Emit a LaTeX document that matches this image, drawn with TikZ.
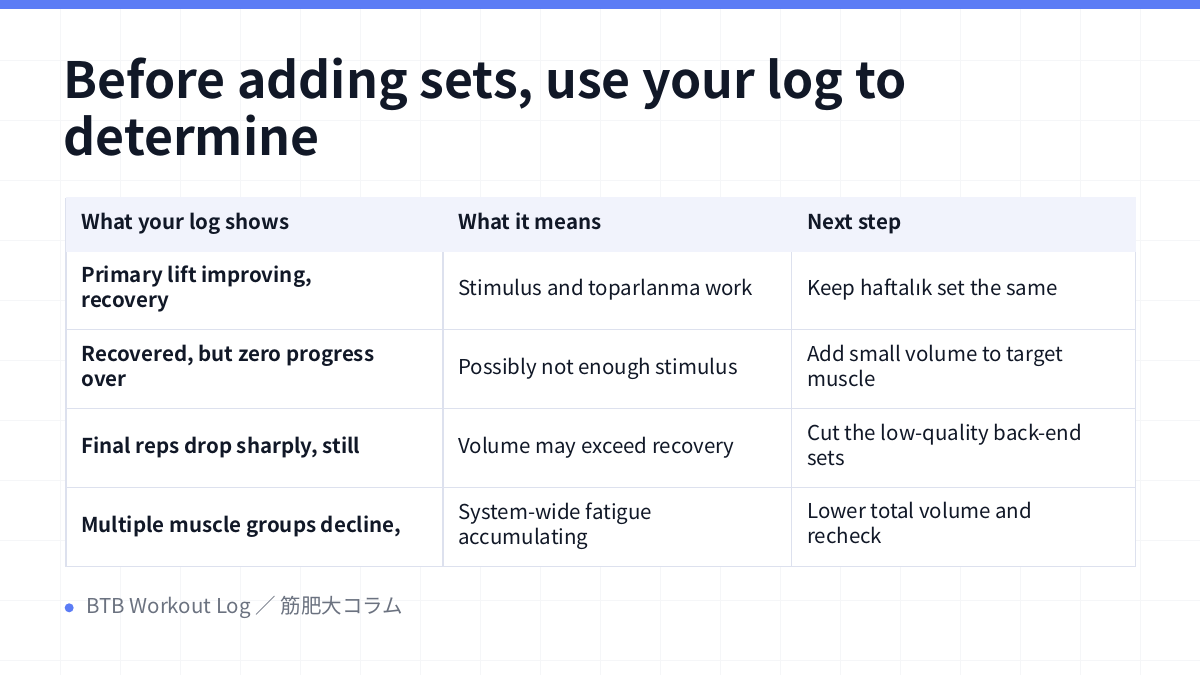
\documentclass[tikz,border=0pt]{standalone}
\usepackage{fontspec}
\setmainfont{Noto Sans CJK JP}[BoldFont={Noto Sans CJK JP Bold}]
\newfontfamily\dotless{DejaVu Sans}
\definecolor{barblue}{HTML}{5B7CF5}
\definecolor{inkdark}{HTML}{111827}
\definecolor{gridline}{HTML}{F5F6F8}
\definecolor{cellline}{HTML}{DDE1EE}
\definecolor{headfill}{HTML}{F1F3FC}
\definecolor{footgrey}{HTML}{6B7280}
\begin{document}
\begin{tikzpicture}[x=1pt,y=-1pt,
	cell/.style={
		rectangle,
		draw=cellline,
		fill=white,
		line width=1.5pt,
		anchor=north west,
		inner sep=0pt,
	},
	celltext/.style={
		anchor=west,
		align=left,
		inner sep=0pt,
		font=\fontsize{20.5}{25}\selectfont,
		text=inkdark,
		execute at begin node={\strut},
		execute at end node={\strut},
	},
	headtext/.style={celltext, font=\fontsize{20.5}{25}\selectfont\bfseries},
]
	% background and grid
	\fill[white] (0,0) rectangle (1200,675);
	\foreach \gx in {60,120,...,1140} \draw[gridline] (\gx,9) -- (\gx,675);
	\foreach \gy in {60,120,...,660} \draw[gridline] (0,\gy) -- (1200,\gy);
	\fill[barblue] (0,0) rectangle (1200,9);

	\node[anchor=north west, inner sep=0pt, align=left, text=inkdark,
		font=\fontsize{50}{57}\selectfont\bfseries] (title) at (63,58)
		{Before adding sets, use your log to\\determine};

	% table cells
	\foreach \r/\top/\h in {0/198/52,1/250/79,2/329/79,3/408/79,4/487/79}{
		\node[cell, minimum width=377, minimum height=\h] (c\r a) at (65,\top) {};
		\node[cell, minimum width=349, minimum height=\h] (c\r b) at (442,\top) {};
		\node[cell, minimum width=344, minimum height=\h] (c\r c) at (791,\top) {};
	}
	\foreach \col in {a,b,c} \fill[headfill] ([shift={(0.75,-0.75)}]c0\col.north west) rectangle ([shift={(-0.75,0.75)}]c0\col.south east);

	\node[headtext] (h1) at ([xshift=16]c0a.west) {What your log shows};
	\node[headtext] (h2) at ([xshift=16]c0b.west) {What it means};
	\node[headtext] (h3) at ([xshift=16]c0c.west) {Next step};

	\node[headtext] (r1a) at ([xshift=16]c1a.west) {Primary lift improving,\\recovery};
	\node[celltext] (r1b) at ([xshift=16]c1b.west) {Stimulus and toparlanma work};
	\node[celltext] (r1c) at ([xshift=16]c1c.west) {Keep haftal{\dotless ı}k set the same};

	\node[headtext] (r2a) at ([xshift=16]c2a.west) {Recovered, but zero progress\\over};
	\node[celltext] (r2b) at ([xshift=16]c2b.west) {Possibly not enough stimulus};
	\node[celltext] (r2c) at ([xshift=16]c2c.west) {Add small volume to target\\muscle};

	\node[headtext] (r3a) at ([xshift=16]c3a.west) {Final reps drop sharply, still};
	\node[celltext] (r3b) at ([xshift=16]c3b.west) {Volume may exceed recovery};
	\node[celltext] (r3c) at ([xshift=16]c3c.west) {Cut the low-quality back-end\\sets};

	\node[headtext] (r4a) at ([xshift=16]c4a.west) {Multiple muscle groups decline,};
	\node[celltext] (r4b) at ([xshift=16]c4b.west) {System-wide fatigue\\accumulating};
	\node[celltext] (r4c) at ([xshift=16]c4c.west) {Lower total volume and\\recheck};

	% footer
	\fill[barblue] (69,608) circle (4.5);
	\node[anchor=west, inner sep=0pt, text=footgrey, font=\fontsize{20.5}{24}\selectfont] (foot) at (86,608)
		{BTB Workout Log ／ 筋肥大コラム};
\end{tikzpicture}
\end{document}
